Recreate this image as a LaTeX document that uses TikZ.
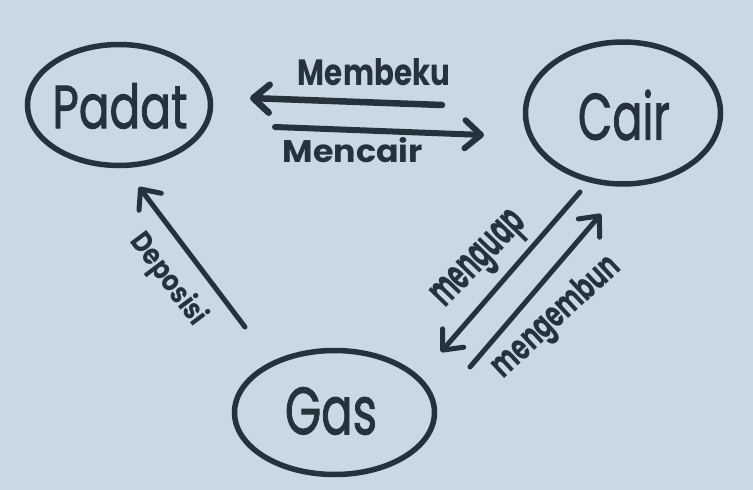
\documentclass[tikz,border=0pt]{standalone}
\usepackage{fontspec}
\setmainfont{Poppins}
\newfontfamily\statefont[FakeBold=1.6]{Poppins}
\usetikzlibrary{shapes.geometric,arrows.meta}
\definecolor{ink}{HTML}{25323C}
\definecolor{paper}{HTML}{C8D8E4}
\begin{document}
\begin{tikzpicture}[x=1pt,y=-1pt,
  state/.style={ellipse, draw=ink, line width=5.5pt, inner sep=0pt},
  word/.style={text=ink, inner sep=0pt},
  flow/.style={draw=ink, line width=#1, line cap=round,
    -{Straight Barb[length=16pt,width=28pt,round]}},
  flow/.default=5pt]
\fill[paper] (0,0) rectangle (753,490);
\useasboundingbox (0,0) rectangle (753,490);

% states
\node[state, minimum width=183pt, minimum height=121pt] (padat) at (119,105) {};
\node[word] (padatlbl) at (120,106) {\resizebox{135pt}{45pt}{\statefont Padat}};
\node[state, minimum width=195pt, minimum height=142pt] (cair) at (623,113) {};
\node[word] (cairlbl) at (624,115) {\resizebox{92pt}{50pt}{\statefont Cair}};
\node[state, minimum width=200pt, minimum height=124pt] (gas) at (334.5,412.5) {};
\node[word] (gaslbl) at (331,411) {\resizebox{92pt}{47pt}{\statefont Gas}};

% arrow end points
\coordinate (mbT) at (442,105);
\coordinate (mbH) at (250,98);
\coordinate (mcT) at (275,127);
\coordinate (mcH) at (484,135);
\coordinate (dpT) at (245,327);
\coordinate (dpH) at (139,187);
\coordinate (mgT) at (580,192);
\coordinate (mgH) at (441,352);
\coordinate (meT) at (470,367);
\coordinate (meH) at (601,214);

\draw[flow=6.5pt] (mbT) -- (mbH);
\draw[flow=6pt] (mcT) -- (mcH);
\draw[flow=5pt] (dpT) -- (dpH);
\draw[flow=5pt] (mgT) -- (mgH);
\draw[flow=5pt] (meT) -- (meH);

% labels
\node[word] (mblbl) at (374,72) {\resizebox{152pt}{27pt}{\bfseries Membeku}};
\node[word] (mclbl) at (353,150) {\resizebox{140pt}{25pt}{\bfseries Mencair}};
\node[word, rotate=-53] (dplbl) at (168,280) {\resizebox*{108pt}{31pt}{\bfseries Deposisi}};
\node[word, rotate=46] (mglbl) at (482,262) {\resizebox*{118pt}{37pt}{\bfseries menguap}};
\node[word, rotate=43] (melbl) at (557,318) {\resizebox*{162pt}{37pt}{\bfseries mengembun}};
\end{tikzpicture}
\end{document}
